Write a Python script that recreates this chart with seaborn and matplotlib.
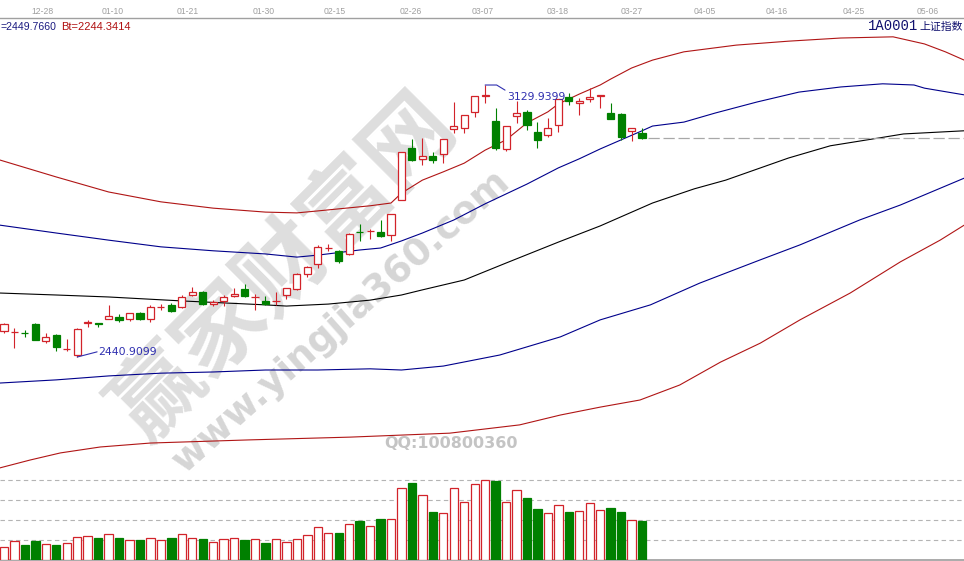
import seaborn as sns
import matplotlib.pyplot as plt

W, H = 964, 561

# daily candles, Shanghai composite (1A0001), index 0 = first bar on screen
opens = [2507, 2504, 2503, 2525, 2482, 2497, 2461, 2446, 2526, 2526,
         2537, 2542, 2538, 2552, 2537, 2567, 2573, 2568, 2598, 2606,
         2575, 2583, 2596, 2613, 2592, 2583, 2582, 2598, 2613, 2651,
         2677, 2716, 2709, 2702, 2758, 2759, 2758, 2750, 2839, 2970,
         2943, 2950, 2955, 3019, 3021, 3062, 3102, 3039, 2968, 3051,
         3062, 3011, 3003, 3029, 3100, 3085, 3095, 3102, 3059, 3056,
         3013, 3008]
highs = [2527, 2514, 2509, 2527, 2502, 2499, 2487, 2514, 2535, 2528,
         2573, 2550, 2553, 2555, 2573, 2575, 2578, 2598, 2618, 2607,
         2585, 2598, 2616, 2626, 2601, 2596, 2606, 2616, 2654, 2671,
         2725, 2727, 2712, 2755, 2778, 2765, 2788, 2803, 2961, 2993,
         2996, 2960, 2994, 3087, 3054, 3103, 3129.94, 3072, 3027, 3089,
         3066, 3036, 3046, 3095, 3110, 3097, 3122, 3105, 3084, 3059,
         3021, 3021]
lows = [2502, 2464, 2492, 2483, 2476, 2455, 2456, 2440.91, 2517, 2517,
        2536, 2530, 2532, 2535, 2530, 2560, 2555, 2565, 2595, 2573,
        2570, 2570, 2593, 2593, 2560, 2573, 2573, 2588, 2611, 2644,
        2666, 2709, 2679, 2699, 2735, 2740, 2745, 2735, 2838, 2937,
        2927, 2932, 2932, 3008, 3008, 3049, 3084, 2965, 2963, 3034,
        3016, 2970, 2998, 3011, 3079, 3054, 3087, 3072, 3043, 2991,
        2988, 2993]
closes = [2525, 2505, 2502, 2484, 2492, 2466, 2462, 2512, 2530, 2525,
          2545, 2535, 2552, 2537, 2568, 2568, 2557, 2593, 2606, 2575,
          2580, 2593, 2600, 2596, 2593, 2575, 2583, 2616, 2651, 2669,
          2720, 2717, 2684, 2752, 2757, 2760, 2748, 2802, 2960, 2940,
          2950, 2940, 2993, 3026, 3054, 3102, 3104, 2970, 3026, 3059,
          3029, 2991, 3021, 3094, 3089, 3089, 3100, 3104, 3044, 2998,
          3021, 2996]
volumes = [63, 97, 75, 97, 80, 75, 87, 113, 120, 110,
           130, 110, 100, 100, 108, 100, 110, 130, 108, 105,
           90, 103, 108, 100, 105, 87, 103, 90, 103, 123,
           163, 133, 137, 180, 197, 170, 205, 205, 358, 387,
           325, 242, 233, 358, 288, 380, 400, 397, 288, 350,
           312, 255, 233, 275, 242, 245, 283, 250, 262, 242,
           200, 197]

date_pos = [3.7, 10.4, 17.6, 24.8, 31.6, 38.9, 45.8, 52.9, 60.0, 67.0, 73.9, 81.2, 88.3]
date_labels = ['12-28', '01-10', '01-21', '01-30', '02-15', '02-26', '03-07',
               '03-18', '03-27', '04-05', '04-16', '04-25', '05-06']

# envelope bands (bar index, value)
upper_red_x = [-0.4, 5, 10, 15, 20, 25, 28, 30, 35, 37, 38, 40, 42, 44, 46, 48,
               50, 52, 53, 55, 57, 58, 60, 62, 65, 70, 75, 80, 85, 88, 90, 91.8]
upper_red = [2940, 2897, 2859, 2834, 2818, 2808, 2806, 2811, 2824, 2831, 2856, 2889,
             2910, 2932, 2965, 2991, 3034, 3062, 3082, 3107, 3130, 3145, 3173, 3193,
             3214, 3231, 3241, 3249, 3252, 3234, 3214, 3193]
upper_blue_x = [-0.4, 5, 10, 15, 20, 25, 28, 30, 34, 36, 38, 40, 43, 46, 50, 53,
                55, 57, 59, 61, 62, 65, 68, 72, 76, 80, 84, 87, 88, 91.8]
upper_blue = [2775, 2755, 2737, 2720, 2710, 2702, 2694, 2699, 2712, 2717, 2735, 2755,
              2788, 2829, 2879, 2920, 2943, 2968, 2991, 3014, 3026, 3036, 3059, 3087,
              3112, 3125, 3133, 3130, 3122, 3105]
mid_x = [-0.4, 5, 10, 17, 25, 27, 31, 35, 38, 40, 44, 48, 53, 57, 62, 66, 69, 75,
         79, 83, 86, 91.8]
mid = [2603, 2598, 2593, 2583, 2573, 2570, 2575, 2585, 2598, 2611, 2636, 2679,
       2732, 2773, 2831, 2867, 2889, 2945, 2976, 2993, 3006, 3014]
lower_blue_x = [-0.4, 5, 10, 15, 20, 25, 30, 35, 38, 42, 47.4, 53.2, 57, 61.8,
                66.5, 72.3, 76.1, 81.8, 85.7, 91.8]
lower_blue = [2375, 2383, 2393, 2400, 2403, 2408, 2408, 2411, 2408, 2418, 2446,
              2492, 2535, 2573, 2628, 2687, 2725, 2788, 2826, 2894]
lower_red_x = [-0.4, 2.5, 5.4, 9.2, 14, 23.5, 33.1, 42.6, 49.3, 53.2, 57, 60.8,
               64.6, 68.5, 72.3, 76.1, 80.9, 85.7, 89.5, 91.8]
lower_red = [2160, 2180, 2198, 2213, 2223, 2231, 2238, 2248, 2269, 2294, 2314,
             2332, 2370, 2428, 2476, 2535, 2603, 2682, 2737, 2775]

RED = '#d2232a'
GREEN = '#008000'
BAND_RED = '#b01515'
NAVY = '#00008b'

sns.set_theme(style='white')
plt.rcParams['font.family'] = ['DejaVu Sans', 'Noto Sans CJK SC']

fig = plt.figure(figsize=(W / 100, H / 100), dpi=100)
fig.patch.set_facecolor('white')

def fx(px):
    return px / W

def fy(py):
    return 1 - py / H

ax = fig.add_axes([0, fy(470), 1, 452 / H])
vax = fig.add_axes([0, 1 / H, 1, 90 / H])

n = len(opens)
idx = list(range(n))
xlim = (-0.382, 91.78)

# watermark
ax.text(fx(285), fy(268), '赢家财富网', transform=fig.transFigure, rotation=45,
        fontsize=64, fontweight='bold', color='#dedede', ha='center', va='center',
        family=['Noto Sans CJK SC'], zorder=0.5, clip_on=False)
ax.text(fx(342), fy(322), 'www.yingjia360.com', transform=fig.transFigure, rotation=41.5,
        fontsize=27, fontweight='bold', color='#d6d6d6', ha='center', va='center',
        zorder=0.5, clip_on=False)

# bands
for bx, by, col in [(upper_red_x, upper_red, BAND_RED), (upper_blue_x, upper_blue, NAVY),
                    (mid_x, mid, 'black'), (lower_blue_x, lower_blue, NAVY),
                    (lower_red_x, lower_red, BAND_RED)]:
    sns.lineplot(x=bx, y=by, ax=ax, color=col, linewidth=0.8, zorder=2)

# candles
up = [c >= o for o, c in zip(opens, closes)]
cols = [RED if u else GREEN for u in up]
ax.vlines(idx, lows, highs, colors=cols, linewidth=0.8, zorder=3)
bottoms = [min(o, c) for o, c in zip(opens, closes)]
heights = [max(abs(c - o), 0.8) for o, c in zip(opens, closes)]
faces = ['white' if u else GREEN for u in up]
ax.bar(idx, heights, bottom=bottoms, width=0.68, color=faces, edgecolor=cols,
       linewidth=0.9, zorder=4)

# last close line
ax.plot([61.6, xlim[1]], [closes[-1], closes[-1]], color='#a8a8a8', lw=0.9,
        linestyle=(0, (9, 3)), zorder=2)

# high / low markers
ax.plot([46, 47.1, 47.9], [highs[46], highs[46], 3117], color='#3030b0', lw=0.8, zorder=5)
ax.text(48.1, 3100, '3129.9399', color='#3030b0', fontsize=7.8, va='center', ha='left', zorder=5)
ax.plot([7, 8.9], [lows[7], 2454], color='#3030b0', lw=0.8, zorder=5)
ax.text(9.0, 2454, '2440.9099', color='#3030b0', fontsize=7.8, va='center', ha='left', zorder=5)

ax.set_xlim(*xlim)
ax.set_ylim(2154.7, 3299.7)
ax.xaxis.tick_top()
ax.set_xticks(date_pos)
ax.set_xticklabels(date_labels, fontsize=6.2, color='#a0a0a0', family='Liberation Sans')
ax.tick_params(axis='x', length=0, pad=1.2)
ax.set_yticks([])
ax.set_xlabel('')
ax.set_ylabel('')
for side in ['left', 'right', 'bottom']:
    ax.spines[side].set_visible(False)
ax.spines['top'].set_color('#a0a0a0')
ax.spines['top'].set_linewidth(1.0)
ax.patch.set_alpha(0)

# volume
for v in [100, 200, 300, 400]:
    vax.axhline(v, color='#b4b4b4', lw=0.8, linestyle=(0, (4, 3)), zorder=1)
vfaces = ['white' if u else GREEN for u in up]
vax.bar(idx, volumes, width=0.8, color=vfaces, edgecolor=cols, linewidth=0.9, zorder=3)
vax.set_xlim(*xlim)
vax.set_ylim(0, 450)
vax.set_xticks([])
vax.set_yticks([])
for side in ['left', 'right', 'top']:
    vax.spines[side].set_visible(False)
vax.spines['bottom'].set_color('#a0a0a0')
vax.patch.set_alpha(0)

# header texts
fig.text(fx(0.5), fy(27.5), '=2449.7660', color='#1a1a80', fontsize=7.6,
         family='Liberation Sans', va='center', ha='left')
fig.text(fx(61), fy(27.5), 'Bt=2244.3414', color='#b01010', fontsize=8,
         family='Liberation Sans', va='center', ha='left')
fig.text(fx(918), fy(26.5), '1A0001', color='#10106e', fontsize=10,
         family='Liberation Mono', va='center', ha='right')
fig.text(fx(963), fy(26.5), '上证指数', color='#10106e', fontsize=7.8,
         family=['Noto Sans CJK SC'], va='center', ha='right')
fig.text(fx(451), fy(444), 'QQ:100800360', color='#c4c4c4', fontsize=11.5,
         fontweight='bold', va='center', ha='center')

fig.savefig('out.png', dpi=100, facecolor='white')
